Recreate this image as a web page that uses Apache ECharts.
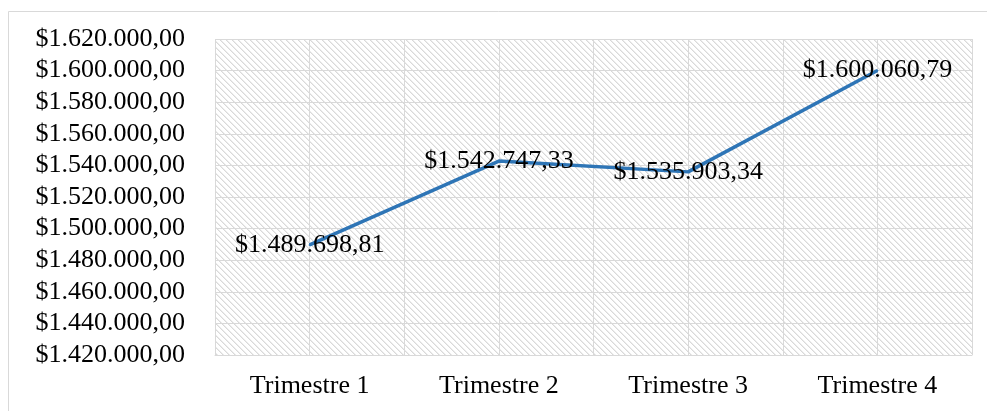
<!DOCTYPE html>
<html>
<head>
<meta charset="utf-8">
<script src="https://cdn.jsdelivr.net/npm/echarts@6/dist/echarts.min.js"></script>
<style>
  html, body { margin: 0; padding: 0; background: #ffffff; }
  #chart { width: 987px; height: 411px; }
</style>
</head>
<body>
<div id="chart"></div>
<script>
// Quarterly totals
const categories = ['Trimestre 1', 'Trimestre 2', 'Trimestre 3', 'Trimestre 4'];
const values = [1489698.81, 1542747.33, 1535903.34, 1600060.79];

// Value axis range and step
const yMin = 1420000;
const yMax = 1620000;
const yStep = 20000;

// "$1.620.000,00" style money formatting
function money(v) {
  const fixed = Math.abs(v).toFixed(2);
  const parts = fixed.split('.');
  const intPart = parts[0].replace(/\B(?=(\d{3})+(?!\d))/g, '.');
  return '$' + intPart + ',' + parts[1];
}

// Light downward-diagonal hatch used as the plot background
function hatchPattern() {
  const size = 6;
  const c = document.createElement('canvas');
  c.width = size; c.height = size;
  const ctx = c.getContext('2d');
  ctx.fillStyle = '#ffffff';
  ctx.fillRect(0, 0, size, size);
  for (let i = 0; i < size; i++) {
    ctx.fillStyle = '#d9d9d9';
    ctx.fillRect(i, i, 1, 1);
    ctx.fillStyle = '#ececec';
    ctx.fillRect((i + 1) % size, i, 1, 1);
  }
  return { image: c, repeat: 'repeat' };
}

const FONT = 'Liberation Serif, Times New Roman, serif';
const GRID_COLOR = '#d9d9d9';
const FONT_SIZE = 26;

const chart = echarts.init(document.getElementById('chart'), null, { renderer: 'canvas' });

chart.setOption({
  animation: false,
  backgroundColor: '#ffffff',
  graphic: [{
    type: 'rect',
    silent: true,
    z: -10,
    shape: { x: 8.5, y: 11.5, width: 1000, height: 420 },
    style: { fill: 'none', stroke: GRID_COLOR, lineWidth: 1 }
  }],
  grid: {
    left: 215,
    right: 15,
    top: 39,
    bottom: 56,
    show: true,
    borderWidth: 0,
    backgroundColor: hatchPattern()
  },
  xAxis: [{
    type: 'category',
    data: categories,
    boundaryGap: true,
    axisLine: { show: true, lineStyle: { color: GRID_COLOR, width: 1 } },
    axisTick: { show: false },
    splitLine: { show: false },
    axisLabel: {
      margin: 18,
      color: '#000000',
      fontFamily: FONT,
      fontSize: FONT_SIZE
    }
  }, {
    // half-category vertical gridlines
    type: 'value',
    min: 0,
    max: categories.length * 2,
    interval: 1,
    position: 'bottom',
    axisLine: { show: false },
    axisTick: { show: false },
    axisLabel: { show: false },
    splitLine: { show: true, lineStyle: { color: GRID_COLOR, width: 1 } }
  }],
  yAxis: {
    type: 'value',
    min: yMin,
    max: yMax,
    interval: yStep,
    axisLine: { show: false },
    axisTick: { show: false },
    splitLine: { show: true, lineStyle: { color: GRID_COLOR, width: 1 } },
    axisLabel: {
      margin: 30,
      color: '#000000',
      fontFamily: FONT,
      fontSize: FONT_SIZE,
      formatter: money
    }
  },
  series: [{
    type: 'line',
    xAxisIndex: 0,
    data: values,
    symbol: 'circle',
    symbolSize: 2,
    showSymbol: true,
    itemStyle: { color: '#2e75b6' },
    lineStyle: { color: '#2e75b6', width: 3.5 },
    label: {
      show: true,
      position: 'inside',
      color: '#000000',
      fontFamily: FONT,
      fontSize: FONT_SIZE,
      formatter: p => money(p.value)
    },
    z: 3
  }]
});
</script>
</body>
</html>
